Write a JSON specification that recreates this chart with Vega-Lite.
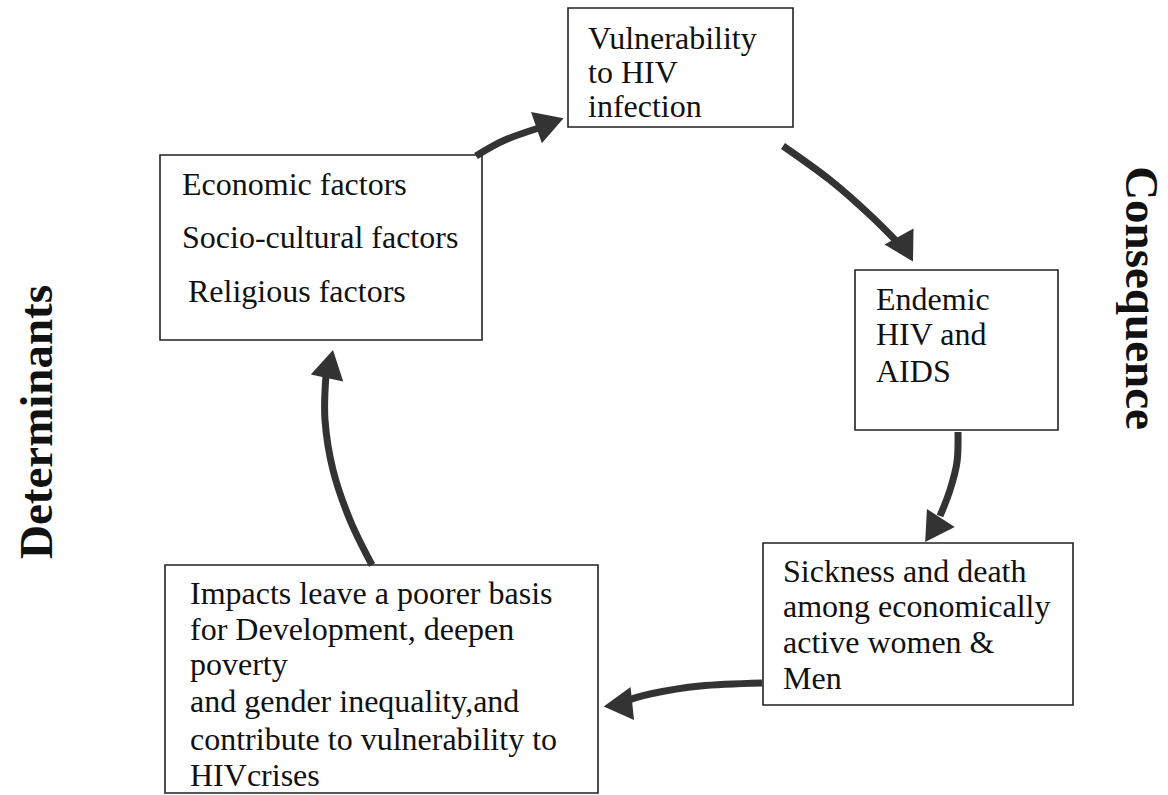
{
  "$schema": "https://vega.github.io/schema/vega-lite/v6.json",
  "autosize": {"type": "fit", "contains": "padding"},
  "width": 1168,
  "height": 795,
  "padding": 0,
  "background": "white",
  "config": {"view": {"stroke": null}},
  "datasets": {
    "boxes": [
      {"id": "vuln", "x1": 568, "x2": 793, "y1": 8, "y2": 127},
      {"id": "econ", "x1": 160, "x2": 482, "y1": 155, "y2": 340},
      {"id": "endemic", "x1": 855, "x2": 1058, "y1": 270, "y2": 430},
      {"id": "sick", "x1": 763, "x2": 1073, "y1": 543, "y2": 705},
      {"id": "impacts", "x1": 165, "x2": 598, "y1": 565, "y2": 793}
    ],
    "texts": [
      {"t": "Vulnerability", "x": 588, "y": 39},
      {"t": "to HIV", "x": 588, "y": 73},
      {"t": "infection", "x": 588, "y": 107},
      {"t": "Economic factors", "x": 182, "y": 185},
      {"t": "Socio-cultural factors", "x": 182, "y": 238},
      {"t": "Religious factors", "x": 188, "y": 292},
      {"t": "Endemic", "x": 876, "y": 300},
      {"t": "HIV and", "x": 876, "y": 335},
      {"t": "AIDS", "x": 876, "y": 372},
      {"t": "Sickness and death", "x": 783, "y": 572},
      {"t": "among economically", "x": 783, "y": 607},
      {"t": "active women &", "x": 783, "y": 643},
      {"t": "Men", "x": 783, "y": 679},
      {"t": "Impacts leave a poorer basis", "x": 190, "y": 594},
      {"t": "for Development, deepen", "x": 190, "y": 630},
      {"t": "poverty", "x": 190, "y": 665},
      {"t": "and gender inequality,and", "x": 190, "y": 702},
      {"t": "contribute to vulnerability to", "x": 190, "y": 740},
      {"t": "HIVcrises", "x": 190, "y": 776}
    ],
    "sidelabels": [
      {"t": "Determinants", "x": 38, "y": 422, "a": -90},
      {"t": "Consequence", "x": 1140, "y": 298, "a": 90}
    ],
    "arrows": [
      {"a": 1, "o": 1, "x": 476, "y": 156},
      {"a": 1, "o": 2, "x": 505, "y": 140},
      {"a": 1, "o": 3, "x": 545, "y": 126},
      {"a": 2, "o": 1, "x": 783, "y": 146},
      {"a": 2, "o": 2, "x": 830, "y": 180},
      {"a": 2, "o": 3, "x": 870, "y": 215},
      {"a": 2, "o": 4, "x": 905, "y": 250},
      {"a": 3, "o": 1, "x": 958, "y": 432},
      {"a": 3, "o": 2, "x": 957, "y": 462},
      {"a": 3, "o": 3, "x": 950, "y": 490},
      {"a": 3, "o": 4, "x": 940, "y": 516},
      {"a": 4, "o": 1, "x": 762, "y": 683},
      {"a": 4, "o": 2, "x": 700, "y": 686},
      {"a": 4, "o": 3, "x": 650, "y": 694},
      {"a": 4, "o": 4, "x": 620, "y": 703},
      {"a": 5, "o": 1, "x": 372, "y": 565},
      {"a": 5, "o": 2, "x": 350, "y": 520},
      {"a": 5, "o": 3, "x": 333, "y": 470},
      {"a": 5, "o": 4, "x": 325, "y": 420},
      {"a": 5, "o": 5, "x": 326, "y": 375}
    ],
    "heads": [
      {"a": 1, "x": 550, "y": 123, "ang": 71},
      {"a": 2, "x": 906, "y": 249, "ang": 151},
      {"a": 3, "x": 933, "y": 530, "ang": 213},
      {"a": 4, "x": 618, "y": 705, "ang": 264},
      {"a": 5, "x": 330, "y": 364, "ang": 12}
    ]
  },
  "encoding": {
    "x": {"type": "quantitative", "scale": {"domain": [0, 1168], "nice": false, "zero": false}, "axis": null},
    "y": {"type": "quantitative", "scale": {"domain": [0, 795], "nice": false, "zero": false, "reverse": true}, "axis": null}
  },
  "layer": [
    {
      "data": {"name": "boxes"},
      "mark": {"type": "rect", "fill": "white", "stroke": "#222", "strokeWidth": 1.6},
      "encoding": {
        "x": {"field": "x1", "type": "quantitative"},
        "x2": {"field": "x2"},
        "y": {"field": "y1", "type": "quantitative"},
        "y2": {"field": "y2"}
      }
    },
    {
      "data": {"name": "arrows"},
      "mark": {"type": "line", "color": "#333", "strokeWidth": 7, "interpolate": "cardinal", "strokeCap": "butt"},
      "encoding": {
        "x": {"field": "x", "type": "quantitative"},
        "y": {"field": "y", "type": "quantitative"},
        "detail": {"field": "a"},
        "order": {"field": "o"}
      }
    },
    {
      "data": {"name": "heads"},
      "mark": {"type": "point", "shape": "triangle-up", "filled": true, "color": "#333", "opacity": 1, "size": 1100},
      "encoding": {
        "x": {"field": "x", "type": "quantitative"},
        "y": {"field": "y", "type": "quantitative"},
        "angle": {"field": "ang", "type": "quantitative", "scale": null}
      }
    },
    {
      "data": {"name": "texts"},
      "mark": {"type": "text", "align": "left", "baseline": "middle", "font": "Liberation Serif", "fontSize": 32, "color": "#111"},
      "encoding": {
        "x": {"field": "x", "type": "quantitative"},
        "y": {"field": "y", "type": "quantitative"},
        "text": {"field": "t"}
      }
    },
    {
      "data": {"name": "sidelabels"},
      "mark": {"type": "text", "align": "center", "baseline": "middle", "font": "Liberation Serif", "fontSize": 47, "fontWeight": "bold", "color": "#111"},
      "encoding": {
        "x": {"field": "x", "type": "quantitative"},
        "y": {"field": "y", "type": "quantitative"},
        "text": {"field": "t"},
        "angle": {"field": "a", "type": "quantitative", "scale": null}
      }
    }
  ]
}
